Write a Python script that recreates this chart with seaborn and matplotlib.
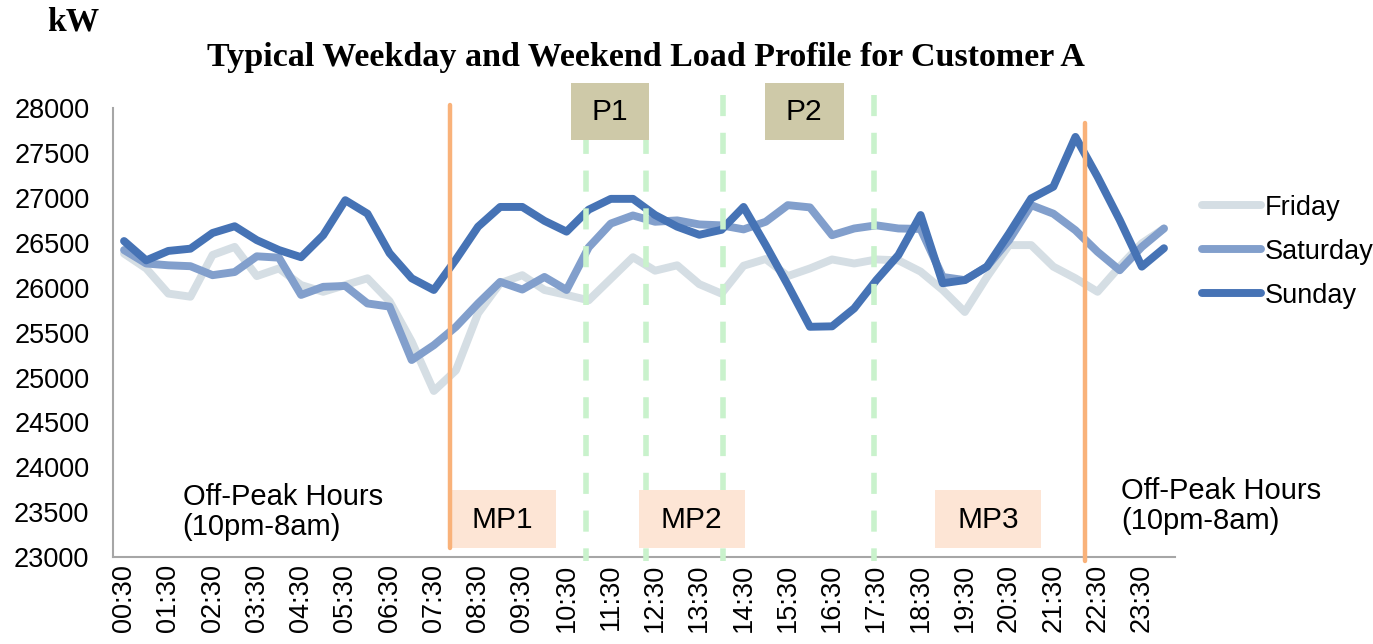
import numpy as np
import pandas as pd
import seaborn as sns
import matplotlib.pyplot as plt
from matplotlib.patches import Rectangle

# half-hour slots, 00:30 ... 24:00
slots = ['00:30', '01:00', '01:30', '02:00', '02:30', '03:00', '03:30', '04:00',
         '04:30', '05:00', '05:30', '06:00', '06:30', '07:00', '07:30', '08:00',
         '08:30', '09:00', '09:30', '10:00', '10:30', '11:00', '11:30', '12:00',
         '12:30', '13:00', '13:30', '14:00', '14:30', '15:00', '15:30', '16:00',
         '16:30', '17:00', '17:30', '18:00', '18:30', '19:00', '19:30', '20:00',
         '20:30', '21:00', '21:30', '22:00', '22:30', '23:00', '23:30', '24:00']

friday = [26380, 26215, 25935, 25900, 26365, 26455, 26130, 26215, 26030, 25955,
          26030, 26105, 25850, 25400, 24850, 25080, 25715, 26050, 26140, 25975,
          25920, 25860, 26100, 26340, 26190, 26250, 26040, 25935, 26245, 26320,
          26130, 26215, 26315, 26270, 26315, 26305, 26180, 25975, 25730, 26120,
          26475, 26475, 26235, 26105, 25955, 26235, 26495, 26660]
saturday = [26420, 26270, 26250, 26240, 26140, 26175, 26350, 26335, 25920, 26010,
            26020, 25825, 25790, 25195, 25360, 25565, 25825, 26065, 25980, 26120,
            25975, 26450, 26715, 26805, 26735, 26750, 26705, 26695, 26650, 26735,
            26920, 26895, 26585, 26660, 26695, 26660, 26655, 26120, 26085, 26235,
            26530, 26920, 26825, 26640, 26400, 26195, 26455, 26660]
sunday = [26520, 26305, 26410, 26435, 26610, 26685, 26530, 26420, 26340, 26585,
          26975, 26825, 26385, 26105, 25975, 26315, 26680, 26900, 26900, 26745,
          26625, 26870, 26990, 26990, 26810, 26680, 26590, 26645, 26900, 26475,
          26030, 25565, 25570, 25770, 26085, 26365, 26810, 26050, 26085, 26235,
          26605, 26995, 27125, 27680, 27235, 26755, 26235, 26440]

days = ['Friday', 'Saturday', 'Sunday']
colors = {'Friday': '#D5DEE4', 'Saturday': '#829FCC', 'Sunday': '#4673B5'}

df = pd.DataFrame({
    'slot': np.tile(np.arange(len(slots)), 3),
    'kW': friday + saturday + sunday,
    'day': np.repeat(days, len(slots)),
})

sns.set_style('white')
plt.rcParams['font.family'] = ['Liberation Sans', 'DejaVu Sans']
plt.rcParams['text.color'] = 'black'
plt.rcParams['xtick.labelcolor'] = 'black'
plt.rcParams['ytick.labelcolor'] = 'black'

fig = plt.figure(figsize=(13.73, 6.44), dpi=100)
ax = fig.add_axes([0.0823, 0.135, 0.7735, 0.697])

sns.lineplot(data=df, x='slot', y='kW', hue='day', hue_order=days, palette=colors,
             linewidth=5.7, solid_capstyle='round', solid_joinstyle='round', ax=ax)

ax.set_xlim(-0.5, len(slots) - 0.5)
ax.set_ylim(23000, 28000)
ax.set_yticks(np.arange(23000, 28001, 500))
ax.set_xticks(np.arange(0, len(slots), 2))
ax.set_xticklabels(slots[::2], rotation=90)
ax.set_xticks(np.arange(-0.5, len(slots), 1), minor=True)
ax.tick_params(axis='x', which='major', length=0, pad=5, labelsize=19.5)
ax.tick_params(axis='x', which='minor', length=7, width=1.3, color='#A6A6A6', direction='out')
ax.tick_params(axis='y', length=7, width=1.3, color='#A6A6A6', direction='out', pad=10, labelsize=19.5)
ax.set_xlabel('')
ax.set_ylabel('')
for s in ['top', 'right']:
    ax.spines[s].set_visible(False)
for s in ['left', 'bottom']:
    ax.spines[s].set_color('#A6A6A6')
    ax.spines[s].set_linewidth(1.5)

# peak / mid-peak boundaries
for xv in [20.86, 23.57, 27.06, 33.9]:
    ax.plot([xv, xv], [28150, 22960], color='#C9F2CC', linewidth=4, linestyle=(0, (3.8, 3.0)),
            clip_on=False, zorder=5)

# boxes
for x0, x1, lab in [(20.18, 23.71, 'P1'), (28.96, 32.53, 'P2')]:
    ax.add_patch(Rectangle((x0, 27644), x1 - x0, 634, facecolor='#CEC9A8', edgecolor='none',
                           clip_on=False, zorder=6))
    ax.text((x0 + x1) / 2, 27961, lab, ha='center', va='center', fontsize=21.5, zorder=7)
for x0, x1, lab in [(14.66, 19.5, 'MP1'), (23.26, 28.05, 'MP2'), (36.65, 41.45, 'MP3')]:
    ax.add_patch(Rectangle((x0, 23100), x1 - x0, 650, facecolor='#FDE5D5', edgecolor='none',
                           clip_on=False, zorder=6))
    ax.text((x0 + x1) / 2, 23410, lab, ha='center', va='center', fontsize=21.5, zorder=7)

# off-peak boundaries
ax.plot([14.75, 14.75], [28030, 23100], color='#F9B27A', linewidth=3.2, clip_on=False, zorder=8)
ax.plot([43.44, 43.44], [27830, 22960], color='#F9B27A', linewidth=3.2, clip_on=False, zorder=8)

ax.text(2.65, 23500, 'Off-Peak Hours\n(10pm-8am)', ha='left', va='center', fontsize=21,
        linespacing=1.1)
ax.text(45.05, 23570, 'Off-Peak Hours\n(10pm-8am)', ha='left', va='center', fontsize=21,
        linespacing=1.1, clip_on=False)

fig.text(0.4706, 0.911, 'Typical Weekday and Weekend Load Profile for Customer A',
         ha='center', va='center', fontsize=24.5, fontweight='bold', family='Liberation Serif')
fig.text(0.0535, 0.966, 'kW', ha='center', va='center', fontsize=24, fontweight='bold',
         family='Liberation Serif')

sns.move_legend(ax, 'center left', bbox_to_anchor=(1.025, 0.68), title=None, frameon=False,
                fontsize=19.5, handlelength=2.2, handletextpad=0.15, labelspacing=0.66,
                borderaxespad=0, borderpad=0)

fig.savefig('out.png', dpi=100)
